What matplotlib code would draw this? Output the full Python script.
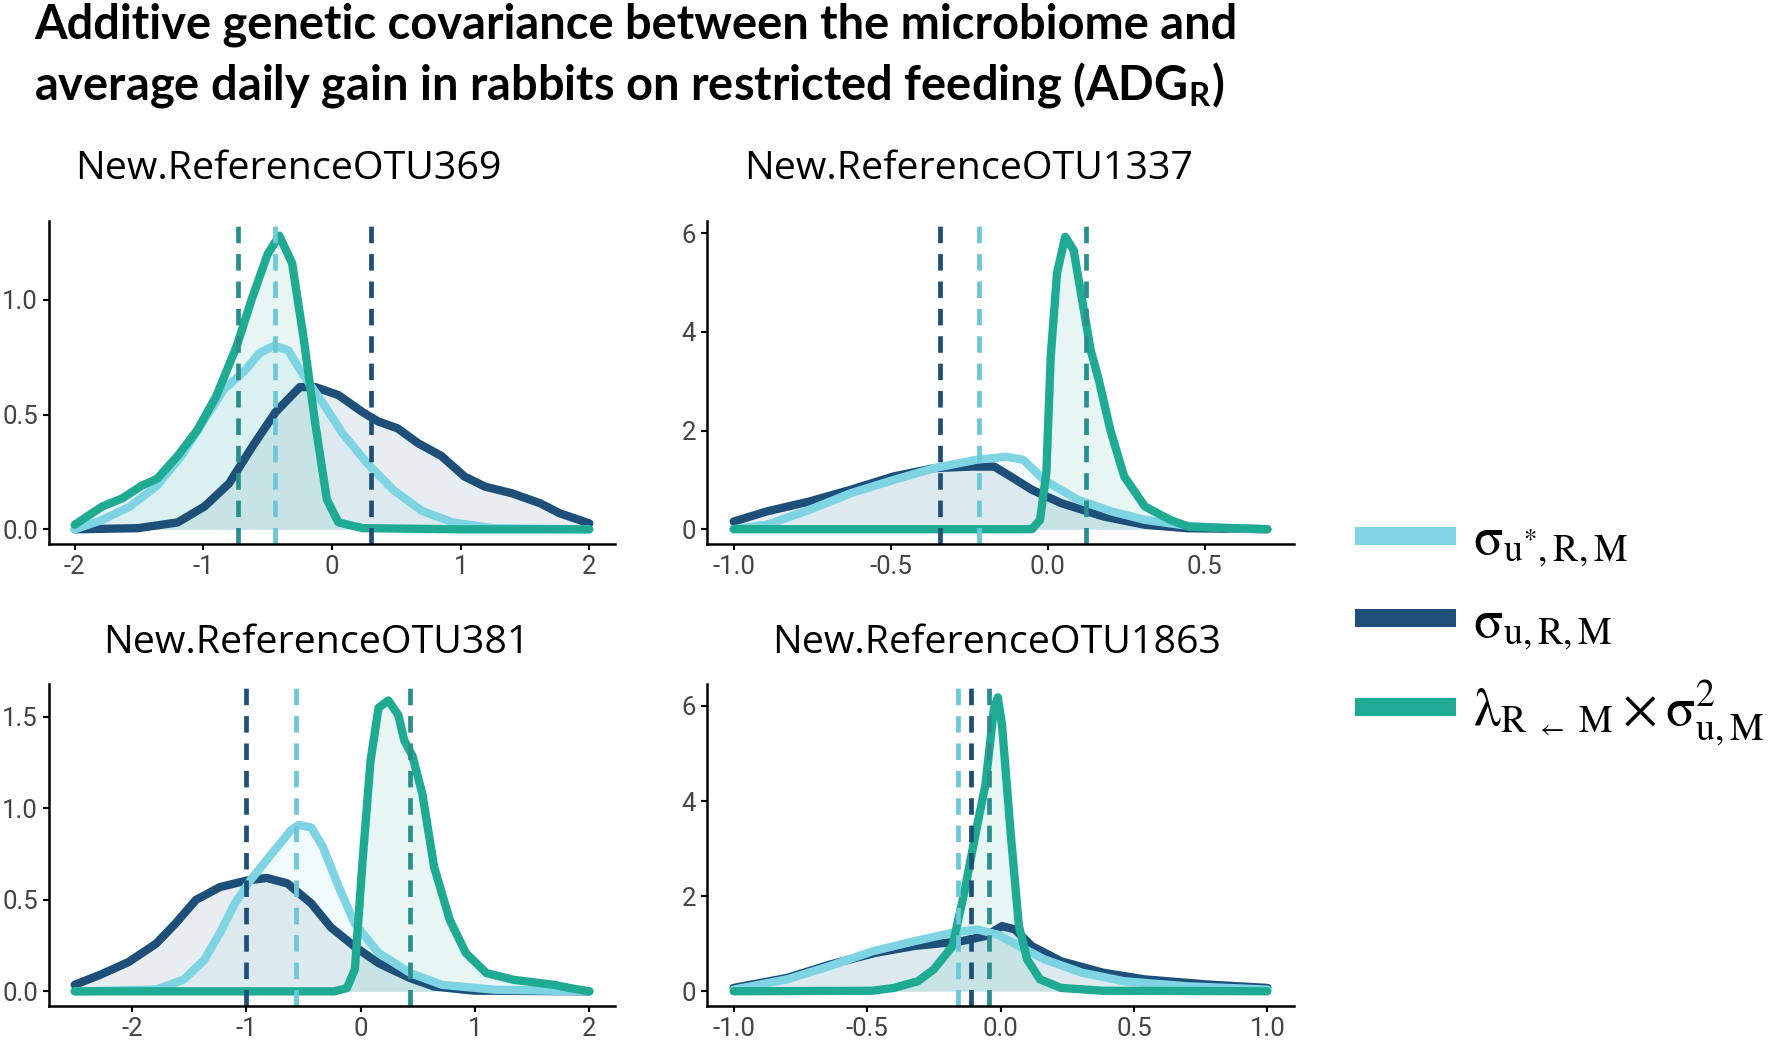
import matplotlib
matplotlib.use('Agg')
import matplotlib.pyplot as plt
from matplotlib.lines import Line2D

LIGHT = '#7fd4e4'
DARK = '#1d4f79'
TEAL = '#1fab93'
VLIGHT = '#6cc8d8'
VTEAL = '#2a8f8c'

panel_titles = ['New.ReferenceOTU369', 'New.ReferenceOTU1337',
                'New.ReferenceOTU381', 'New.ReferenceOTU1863']

# ---- New.ReferenceOTU369 ----
otu369_teal_x = [-2.0, -1.785, -1.63, -1.48, -1.36, -1.2, -1.05, -0.9, -0.74, -0.62, -0.5,
                 -0.41, -0.31, -0.22, -0.13, -0.04, 0.05, 0.24, 1.0, 2.0]
otu369_teal_y = [0.02, 0.10, 0.135, 0.19, 0.22, 0.32, 0.43, 0.58, 0.80, 1.01, 1.20,
                 1.28, 1.16, 0.83, 0.46, 0.13, 0.03, 0.005, 0.0, 0.0]
otu369_light_x = [-2.0, -1.79, -1.57, -1.36, -1.17, -0.99, -0.84, -0.68, -0.56, -0.45,
                  -0.34, -0.22, -0.07, 0.08, 0.27, 0.48, 0.70, 0.94, 1.25, 2.0]
otu369_light_y = [0.0, 0.04, 0.10, 0.19, 0.32, 0.48, 0.61, 0.69, 0.77, 0.80,
                  0.78, 0.67, 0.55, 0.42, 0.29, 0.17, 0.08, 0.03, 0.005, 0.0]
otu369_dark_x = [-2.0, -1.51, -1.2, -0.99, -0.8, -0.62, -0.44, -0.25, -0.13, 0.05, 0.24,
                 0.36, 0.51, 0.67, 0.85, 1.03, 1.19, 1.40, 1.62, 1.77, 2.0]
otu369_dark_y = [0.0, 0.005, 0.03, 0.10, 0.20, 0.36, 0.51, 0.62, 0.62, 0.585, 0.51,
                 0.47, 0.44, 0.375, 0.32, 0.23, 0.186, 0.157, 0.113, 0.07, 0.026]
otu369_vlines = [-0.44, 0.30, -0.73]  # light, dark, teal

# ---- New.ReferenceOTU1337 ----
otu1337_teal_x = [-1.0, -0.05, -0.024, -0.004, 0.01, 0.03, 0.056, 0.083, 0.11, 0.137,
                  0.163, 0.20, 0.244, 0.31, 0.39, 0.45, 0.7]
otu1337_teal_y = [0.0, 0.0, 0.19, 1.14, 3.5, 5.19, 5.93, 5.66, 4.65, 3.64,
                  3.03, 2.01, 1.07, 0.46, 0.19, 0.05, 0.0]
otu1337_light_x = [-1.0, -0.895, -0.76, -0.627, -0.49, -0.36, -0.225, -0.13, -0.078,
                   -0.011, 0.097, 0.204, 0.31, 0.445, 0.58, 0.7]
otu1337_light_y = [0.0, 0.09, 0.39, 0.73, 1.0, 1.24, 1.41, 1.47, 1.41,
                   1.0, 0.595, 0.36, 0.19, 0.07, 0.02, 0.0]
otu1337_dark_x = [-1.0, -0.895, -0.76, -0.627, -0.49, -0.36, -0.24, -0.17, -0.118,
                  -0.05, 0.043, 0.177, 0.31, 0.445, 0.7]
otu1337_dark_y = [0.155, 0.36, 0.56, 0.80, 1.07, 1.24, 1.27, 1.27, 1.07,
                  0.80, 0.53, 0.26, 0.09, 0.02, 0.0]
otu1337_vlines = [-0.22, -0.342, 0.122]

# ---- New.ReferenceOTU381 ----
otu381_teal_x = [-2.5, -0.23, -0.12, -0.05, 0.017, 0.087, 0.157, 0.243, 0.33, 0.383,
                 0.452, 0.54, 0.643, 0.78, 0.92, 1.10, 1.34, 1.69, 1.83, 2.0]
otu381_teal_y = [0.0, 0.0, 0.018, 0.12, 0.71, 1.26, 1.55, 1.59, 1.51, 1.37,
                 1.29, 1.08, 0.68, 0.39, 0.21, 0.10, 0.063, 0.036, 0.018, 0.0]
otu381_light_x = [-2.5, -1.79, -1.55, -1.37, -1.23, -1.1, -0.96, -0.78, -0.61, -0.54,
                  -0.43, -0.33, -0.19, -0.05, 0.157, 0.435, 0.71, 1.17, 2.0]
otu381_light_y = [0.0, 0.01, 0.063, 0.17, 0.32, 0.48, 0.61, 0.75, 0.88, 0.91,
                  0.895, 0.79, 0.57, 0.37, 0.21, 0.10, 0.036, 0.009, 0.0]
otu381_dark_x = [-2.5, -2.28, -2.03, -1.79, -1.62, -1.44, -1.23, -1.0, -0.82, -0.64,
                 -0.43, -0.26, -0.05, 0.157, 0.435, 0.64, 0.99, 2.0]
otu381_dark_y = [0.036, 0.09, 0.16, 0.26, 0.37, 0.50, 0.57, 0.605, 0.62, 0.59,
                 0.48, 0.35, 0.244, 0.154, 0.072, 0.027, 0.004, 0.0]
otu381_vlines = [-0.567, -1.0, 0.435]

# ---- New.ReferenceOTU1863 ----
otu1863_teal_x = [-1.0, -0.48, -0.40, -0.31, -0.25, -0.18, -0.136, -0.088, -0.057, -0.025,
                  -0.01, 0.006, 0.038, 0.069, 0.10, 0.148, 0.227, 0.385, 1.0]
otu1863_teal_y = [0.0, 0.01, 0.07, 0.21, 0.46, 0.95, 2.07, 3.47, 4.32, 5.93,
                  6.18, 5.58, 3.33, 1.37, 0.67, 0.25, 0.07, 0.01, 0.0]
otu1863_light_x = [-1.0, -0.80, -0.64, -0.48, -0.325, -0.18, -0.088, -0.01, 0.069, 0.164,
                   0.306, 0.464, 0.70, 1.0]
otu1863_light_y = [0.035, 0.25, 0.53, 0.84, 1.05, 1.23, 1.30, 1.19, 0.95, 0.67,
                   0.39, 0.21, 0.105, 0.035]
otu1863_dark_x = [-1.0, -0.80, -0.64, -0.467, -0.325, -0.15, -0.057, 0.006, 0.054, 0.117,
                  0.227, 0.385, 0.54, 0.78, 1.0]
otu1863_dark_y = [0.07, 0.28, 0.56, 0.81, 0.95, 1.05, 1.16, 1.37, 1.30, 0.95,
                  0.63, 0.39, 0.25, 0.14, 0.07]
otu1863_vlines = [-0.159, -0.109, -0.044]

panels = [
    (otu369_light_x, otu369_light_y, otu369_dark_x, otu369_dark_y,
     otu369_teal_x, otu369_teal_y, otu369_vlines),
    (otu1337_light_x, otu1337_light_y, otu1337_dark_x, otu1337_dark_y,
     otu1337_teal_x, otu1337_teal_y, otu1337_vlines),
    (otu381_light_x, otu381_light_y, otu381_dark_x, otu381_dark_y,
     otu381_teal_x, otu381_teal_y, otu381_vlines),
    (otu1863_light_x, otu1863_light_y, otu1863_dark_x, otu1863_dark_y,
     otu1863_teal_x, otu1863_teal_y, otu1863_vlines),
]

xlims = [(-2.2, 2.2), (-1.085, 0.785), (-2.725, 2.225), (-1.1, 1.1)]
ylims = [(-0.064, 1.344), (-0.3, 6.25), (-0.08, 1.68), (-0.31, 6.46)]
xticks = [[-2, -1, 0, 1, 2], [-1.0, -0.5, 0.0, 0.5], [-2, -1, 0, 1, 2],
          [-1.0, -0.5, 0.0, 0.5, 1.0]]
xticklabels = [['-2', '-1', '0', '1', '2'], ['-1.0', '-0.5', '0.0', '0.5'],
               ['-2', '-1', '0', '1', '2'], ['-1.0', '-0.5', '0.0', '0.5', '1.0']]
yticks = [[0.0, 0.5, 1.0], [0, 2, 4, 6], [0.0, 0.5, 1.0, 1.5], [0, 2, 4, 6]]
yticklabels = [['0.0', '0.5', '1.0'], ['0', '2', '4', '6'],
               ['0.0', '0.5', '1.0', '1.5'], ['0', '2', '4', '6']]

W, H = 1770, 1051
plt.rcParams['mathtext.fontset'] = 'stix'
fig = plt.figure(figsize=(W / 100, H / 100), dpi=100)

# axes rectangles in pixels: left, top, right, bottom
rects = [(49, 221, 615, 544), (707, 221, 1294, 544),
         (49, 684, 615, 1006), (707, 684, 1294, 1006)]
title_pos = [(288, 169), (969, 169), (316, 643), (997, 643)]

tick_font = ['Liberation Sans Narrow', 'Roboto']

for i, (lx, ly, dx, dy, tx, ty, vl) in enumerate(panels):
    l, t, r, b = rects[i]
    ax = fig.add_axes([l / W, 1 - b / H, (r - l) / W, (b - t) / H])
    for xs, ys, c in [(dx, dy, DARK), (lx, ly, LIGHT), (tx, ty, TEAL)]:
        ax.fill_between(xs, 0, ys, color=c, alpha=0.1, lw=0)
    for xs, ys, c in [(dx, dy, DARK), (lx, ly, LIGHT), (tx, ty, TEAL)]:
        ax.plot(xs, ys, color=c, lw=6, solid_joinstyle='round', solid_capstyle='round')
    for v, c in zip(vl, [VLIGHT, DARK, VTEAL]):
        ax.axvline(v, color=c, lw=3.4, dashes=(3.5, 2.3))
    ax.set_xlim(*xlims[i])
    ax.set_ylim(*ylims[i])
    ax.set_xticks(xticks[i])
    ax.set_xticklabels(xticklabels[i])
    ax.set_yticks(yticks[i])
    ax.set_yticklabels(yticklabels[i])
    for s in ['top', 'right']:
        ax.spines[s].set_visible(False)
    for s in ['left', 'bottom']:
        ax.spines[s].set_linewidth(1.8)
    ax.tick_params(length=4, width=1.5, labelsize=18.5, labelcolor='#444444', pad=4)
    for lab in ax.get_xticklabels() + ax.get_yticklabels():
        lab.set_family(tick_font)
    ax.patch.set_alpha(0)
    fig.text(title_pos[i][0] / W, 1 - title_pos[i][1] / H, panel_titles[i],
             ha='center', va='center', fontsize=28.4, family='Open Sans')

fig.text(34 / W, 1 - 25 / H,
         'Additive genetic covariance between the microbiome and',
         ha='left', va='center', fontsize=33.8, fontweight='bold', family='Lato')
fig.text(34 / W, 1 - 85 / H,
         r'average daily gain in rabbits on restricted feeding (ADG$_\mathregular{R}$)',
         ha='left', va='center', fontsize=33.8, fontweight='bold', family='Lato')

handles = [Line2D([], [], color=c, lw=13, solid_capstyle='butt')
           for c in [LIGHT, DARK, TEAL]]
labels = [r'$\mathrm{\sigma}_{\mathrm{u^{*},R,M}}$', r'$\mathrm{\sigma}_{\mathrm{u,R,M}}$',
          r'$\mathrm{\lambda}_{\mathrm{R}\ _{\leftarrow}\ \mathrm{M}} \times '
          r'\mathrm{\sigma}^{2}_{\mathrm{u,M}}$']
fig.legend(handles, labels, loc='center left', bbox_to_anchor=(1355 / W, 1 - 631 / H),
           frameon=False, fontsize=39, handlelength=1.87, handletextpad=0.3,
           labelspacing=0.48, borderaxespad=0, borderpad=0)

fig.savefig('out.png', dpi=100)
